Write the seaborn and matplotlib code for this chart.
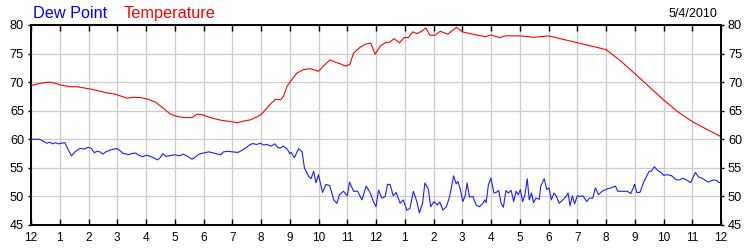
import matplotlib
matplotlib.use("Agg")
import matplotlib.pyplot as plt
import seaborn as sns
import pandas as pd

temp_hours = [0.0, 0.32, 0.61, 0.85, 1.02, 1.37, 1.6, 1.83, 2.06, 2.41, 2.65, 2.93, 3.1, 3.34,
              3.57, 3.8, 4.04, 4.33, 4.56, 4.85, 5.08, 5.31, 5.6, 5.78, 5.95, 6.24, 6.59, 6.94,
              7.17, 7.4, 7.63, 7.8, 8.0, 8.3, 8.5, 8.68, 8.78, 8.9, 9.02, 9.25, 9.48, 9.71, 10.0,
              10.17, 10.4, 10.58, 10.76, 10.94, 11.09, 11.22, 11.45, 11.66, 11.82, 11.97, 12.15,
              12.32, 12.47, 12.63, 12.82, 12.98, 13.13, 13.28, 13.42, 13.59, 13.73, 13.88, 14.06,
              14.23, 14.5, 14.8, 15.0, 15.5, 15.8, 16.0, 16.3, 16.5, 17.0, 17.5, 18.0, 18.5, 19.0,
              19.5, 20.0, 20.5, 21.0, 21.5, 22.0, 22.5, 23.0, 23.5, 24.0]
temp_values = [69.4, 69.8, 70.0, 69.8, 69.5, 69.2, 69.2, 69.0, 68.8, 68.4, 68.1, 67.9, 67.6, 67.2,
               67.35, 67.3, 67.05, 66.5, 65.6, 64.4, 64.0, 63.8, 63.8, 64.4, 64.3, 63.8, 63.35, 63.1,
               62.9, 63.2, 63.4, 63.8, 64.3, 66.0, 67.0, 66.9, 67.5, 69.2, 70.1, 71.6, 72.2, 72.35, 71.9,
               72.8, 73.9, 73.5, 73.2, 72.8, 73.1, 75.1, 76.1, 76.7, 76.8, 74.9, 76.3,
               76.9, 77.0, 77.6, 76.9, 77.8, 77.8, 78.8, 78.5, 78.9, 79.5, 78.2, 78.2,
               78.9, 78.4, 79.6, 78.8, 78.25, 77.95, 78.25, 77.8, 78.1, 78.1, 77.85, 78.1, 77.5, 76.9,
               76.3, 75.7, 73.75, 71.5, 69.2, 66.9, 64.8, 63.1, 61.75, 60.45]

dew_hours = [0.0, 0.3, 0.45, 0.55, 0.65, 0.75, 0.85, 0.95, 1.05, 1.18, 1.3, 1.41, 1.53, 1.7, 1.85,
             1.99, 2.1, 2.2, 2.3, 2.4, 2.5, 2.6, 2.75, 2.9, 2.98, 3.1, 3.2, 3.4, 3.5, 3.64, 3.75,
             3.88, 4.0, 4.1, 4.25, 4.4, 4.5, 4.58, 4.7, 4.8, 5.0, 5.15, 5.3, 5.45, 5.6, 5.72, 5.84,
             6.0, 6.18, 6.35, 6.5, 6.6, 6.7, 6.85, 7.0, 7.2, 7.35, 7.5, 7.6, 7.7, 7.85, 7.97, 8.1,
             8.2, 8.35, 8.48, 8.6, 8.68, 8.78, 8.9, 9.0, 9.05, 9.16, 9.31, 9.43, 9.51, 9.66, 9.74,
             9.83, 9.91, 10.0, 10.14, 10.26, 10.39, 10.53, 10.64, 10.73, 10.87, 11.0, 11.08, 11.22,
             11.36, 11.51, 11.66, 11.8, 11.91, 12.0, 12.09, 12.2, 12.32, 12.4, 12.49, 12.6, 12.7,
             12.84, 12.95, 13.07, 13.18, 13.3, 13.42, 13.51, 13.62, 13.7, 13.82, 13.9, 14.02, 14.13,
             14.22, 14.33, 14.45, 14.56, 14.62, 14.7, 14.79, 14.85, 14.93, 15.02, 15.1, 15.17,
             15.25, 15.37, 15.48, 15.6, 15.72, 15.78, 15.83, 15.91, 16.0, 16.1, 16.18, 16.27,
             16.35, 16.43, 16.52, 16.6, 16.7, 16.79, 16.87, 16.95, 17.02, 17.1, 17.18, 17.26,
             17.33, 17.41, 17.48, 17.56, 17.68, 17.73, 17.85, 17.94, 18.02, 18.1, 18.19, 18.28,
             18.37, 18.48, 18.6, 18.68, 18.75, 18.83, 18.91, 19.0, 19.1, 19.2, 19.33, 19.43,
             19.54, 19.63, 19.74, 19.86, 20.04, 20.18, 20.33, 20.41, 20.56, 20.74, 20.86, 21.0,
             21.07, 21.18, 21.32, 21.5, 21.58, 21.68, 21.79, 21.91, 22.0, 22.15, 22.29, 22.44,
             22.56, 22.67, 22.83, 22.94, 23.11, 23.22, 23.34, 23.55, 23.73, 23.85, 23.93, 24.0]
dew_values = [60.0, 60.0, 59.6, 59.3, 59.5, 59.2, 59.4, 59.2, 59.3, 59.4, 58.1, 57.1, 57.8, 58.4, 58.3,
              58.6, 58.4, 57.65, 57.9, 57.8, 57.4, 57.8, 58.1, 58.3, 58.4, 58.0, 57.55, 57.3, 57.5, 57.6, 57.2,
              56.95, 57.2, 57.1, 56.8, 56.4, 56.8, 57.5, 57.0, 57.1, 57.3, 57.1, 57.4, 57.0, 56.5, 56.9, 57.4,
              57.6, 57.8, 57.6, 57.4, 57.3, 57.8, 57.9, 57.8, 57.7, 58.1, 58.6, 59.0, 59.25, 59.1, 59.3, 59.0,
              59.1, 58.8, 59.2, 58.5, 58.5, 58.8, 58.35, 57.5, 57.7, 56.8, 58.35, 57.8, 55.0, 53.5, 53.1,
              54.4, 52.4, 53.8, 50.7, 52.1, 51.9, 49.4, 48.8, 50.3, 50.9, 50.1, 52.5, 50.9,
              50.9, 49.4, 51.8, 50.6, 49.1, 48.2, 51.1, 49.7, 50.0, 52.1, 52.1, 50.1, 50.7,
              48.8, 49.4, 47.6, 47.9, 50.9, 49.1, 47.1, 48.8, 52.35, 51.3, 48.2, 49.1, 48.5,
              49.0, 47.6, 48.2, 50.0, 51.5, 53.6, 52.2, 52.6, 51.3, 49.1, 50.1, 52.35,
              49.9, 50.0, 48.5, 48.2, 48.8, 49.4, 48.9, 52.05, 53.2, 50.6, 50.7, 51.05,
              48.8, 48.1, 51.05, 50.6, 51.05, 49.1, 50.9, 50.3, 51.2, 49.1, 50.3, 53.1,
              49.4, 50.6, 48.9, 49.7, 49.5, 51.8, 53.1, 51.2, 51.5, 49.4, 50.6, 50.0,
              48.8, 49.3, 49.9, 50.6, 48.35, 50.1, 48.7, 50.1, 50.0, 50.1, 49.1, 49.7,
              49.7, 51.5, 50.3, 50.9, 51.3, 51.5, 51.8, 50.9, 50.9, 50.9, 50.5, 52.1,
              50.7, 50.7, 52.6, 54.4, 54.4, 55.2, 54.6, 54.2, 53.7, 53.8, 53.6, 52.9,
              52.9, 53.2, 52.8, 52.4, 54.2, 53.4, 53.2, 52.5, 52.9, 52.8, 52.4, 52.5]

x_ticks = list(range(0, 25))
x_labels = ["12", "1", "2", "3", "4", "5", "6", "7", "8", "9", "10", "11",
            "12", "1", "2", "3", "4", "5", "6", "7", "8", "9", "10", "11", "12"]
y_ticks = [45, 50, 55, 60, 65, 70, 75, 80]

sns.set_theme(style="white")
plt.rcParams["font.family"] = ["Liberation Sans", "DejaVu Sans"]

fig = plt.figure(figsize=(7.5, 2.5), dpi=100)
ax = fig.add_axes([31 / 750, 25 / 250, 690 / 750, 200 / 250])

temp_df = pd.DataFrame({"hour": temp_hours, "value": temp_values})
dew_df = pd.DataFrame({"hour": dew_hours, "value": dew_values})

sns.lineplot(data=temp_df, x="hour", y="value", ax=ax, color="#FF0000", linewidth=0.8, estimator=None)
sns.lineplot(data=dew_df, x="hour", y="value", ax=ax, color="#1E1EFF", linewidth=0.8, estimator=None)

ax.set_xlim(0, 24)
ax.set_ylim(45, 80)
ax.set_xticks(x_ticks)
ax.set_xticklabels(x_labels)
ax.set_yticks(y_ticks)
ax.set_yticklabels([str(v) for v in y_ticks])
ax.set_xlabel("")
ax.set_ylabel("")

ax.grid(True, color="#CCCCCC", linewidth=0.9)
ax.set_axisbelow(True)
for s in ax.spines.values():
    s.set_visible(True)
    s.set_color("black")
    s.set_linewidth(1.4)

ax.tick_params(axis="x", direction="in", length=4, width=1, colors="black",
               top=True, bottom=True, labelsize=8.5, pad=5)
ax.tick_params(axis="y", direction="out", length=2, width=1, colors="black",
               left=True, right=True, labelleft=True, labelright=True, labelsize=9.2, pad=3)

fig.text(33 / 750, 1 - 18 / 250, "Dew Point", color="#0000FF", fontsize=11.7, va="baseline", ha="left")
fig.text(124 / 750, 1 - 18 / 250, "Temperature", color="#FF0000", fontsize=11.7, va="baseline", ha="left")
fig.text(717 / 750, 1 - 17 / 250, "5/4/2010", color="black", fontsize=9, va="baseline", ha="right")

fig.savefig("out.png", dpi=100)
